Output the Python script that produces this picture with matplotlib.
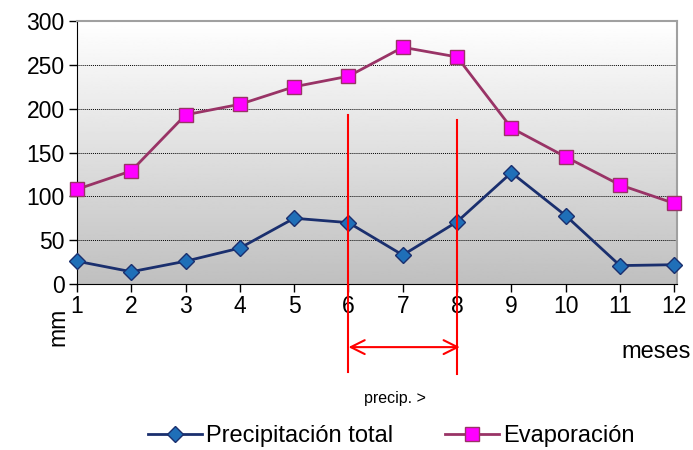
import numpy as np
import matplotlib.pyplot as plt
from matplotlib.lines import Line2D

plt.rcParams['font.family'] = ['Liberation Sans', 'DejaVu Sans']

# data
meses = [1, 2, 3, 4, 5, 6, 7, 8, 9, 10, 11, 12]
precipitacion = [26, 14, 26, 41, 75, 70, 33, 71, 127, 78, 21, 22]
evaporacion = [108, 129, 193, 205, 225, 237, 270, 259, 178, 145, 113, 92]
y_ticks = [0, 50, 100, 150, 200, 250, 300]

fig = plt.figure(figsize=(6.93, 4.5), dpi=100)
ax = fig.add_axes([77 / 693, 1 - 284 / 450, 600 / 693, 263 / 450])

# gradient background (white on top, grey at bottom)
grad = np.linspace(1.0, 0.75, 256).reshape(-1, 1)
ax.imshow(grad, cmap='gray', vmin=0, vmax=1, aspect='auto',
          extent=[1, 12.05, 0, 300], origin='upper', zorder=0)

ax.set_xlim(1, 12.05)
ax.set_ylim(0, 300)
ax.set_yticks(y_ticks)
ax.set_xticks(meses)
ax.tick_params(axis='both', labelsize=16.5, direction='out', length=6, width=1)
ax.tick_params(axis='x', pad=2)
ax.tick_params(axis='y', pad=3)
for t in y_ticks[1:-1]:
    ax.axhline(t, color='black', lw=0.7, ls=(0, (1, 1)), zorder=1)

for side in ['top', 'right']:
    ax.spines[side].set_color('#a0a0a0')
    ax.spines[side].set_linewidth(1.5)
for side in ['left', 'bottom']:
    ax.spines[side].set_color('black')

ax.plot(meses, precipitacion, color='#1a2f6e', lw=2, marker='D', ms=8,
        mfc='#1f6fb8', mec='#1a2f6e', mew=1, zorder=3, clip_on=False)
ax.plot(meses, evaporacion, color='#993366', lw=2, marker='s', ms=10,
        mfc='#ff00ff', mec='#993366', mew=1, zorder=3, clip_on=False)

# red annotations for the period where precipitation is higher
ax.plot([6, 6], [-100, 193], color='red', lw=1.5, clip_on=False, zorder=4)
ax.plot([8, 8], [-103, 187], color='red', lw=1.5, clip_on=False, zorder=4)
ax.annotate('', xy=(6, -72), xytext=(8.05, -72), annotation_clip=False,
            arrowprops=dict(arrowstyle='<->', color='red', lw=1.5,
                            mutation_scale=25, shrinkA=0, shrinkB=0))
fig.text(395 / 693, 1 - 398 / 450, 'precip. >', fontsize=11.5, ha='center', va='center')

fig.text(58 / 693, 1 - 327 / 450, 'mm', fontsize=16.5, rotation=90, ha='center', va='center')
fig.text(656 / 693, 1 - 352 / 450, 'meses', fontsize=17, ha='center', va='center')

handles = [
    Line2D([], [], color='#1a2f6e', lw=2, marker='D', ms=8, mfc='#1f6fb8', mec='#1a2f6e'),
    Line2D([], [], color='#993366', lw=2, marker='s', ms=10, mfc='#ff00ff', mec='#993366'),
]
fig.legend(handles, ['Precipitación total', 'Evaporación'], loc='center',
           bbox_to_anchor=(391 / 693, 1 - 436 / 450), ncol=2, frameon=False,
           fontsize=17, handlelength=2.3, handletextpad=0.15, columnspacing=2.2)

fig.savefig('out.png', dpi=100)
